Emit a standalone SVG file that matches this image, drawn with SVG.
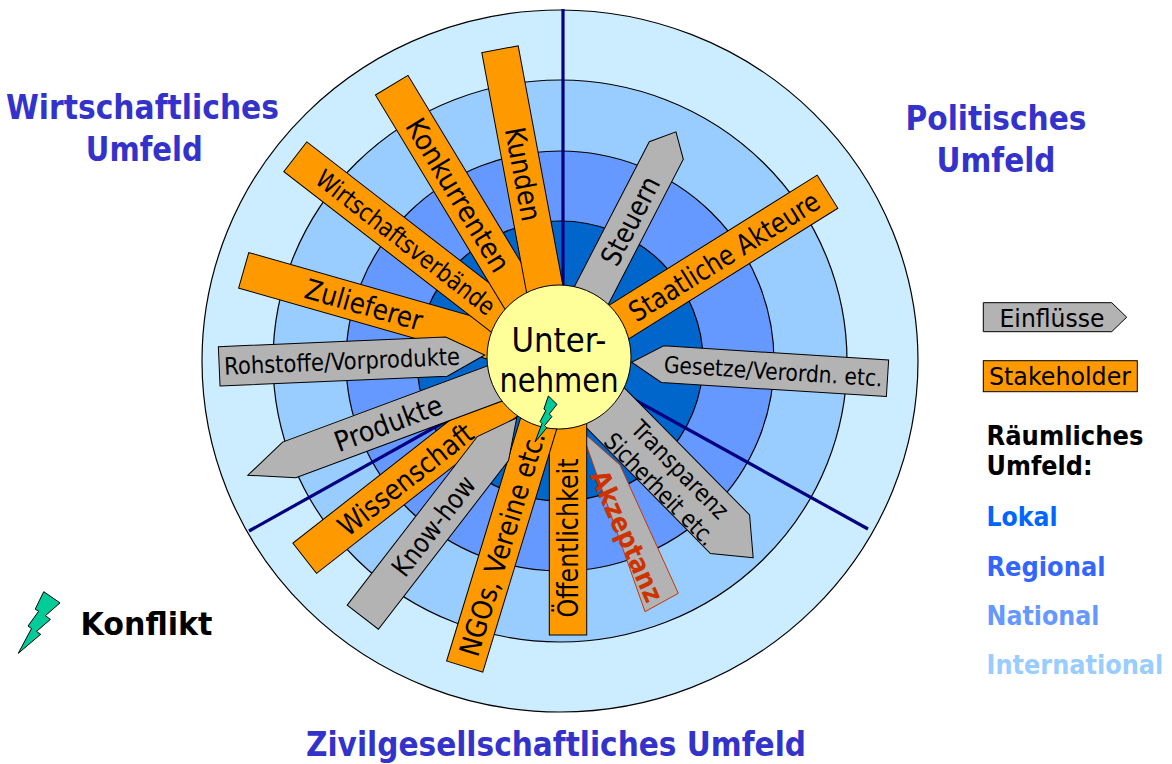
<svg xmlns="http://www.w3.org/2000/svg" width="1172" height="764" viewBox="0 0 1172 764">
<style>
.ring{stroke:#000;stroke-width:1.2}
.axis{stroke:#000080;stroke-width:3.2;fill:none}
.st{fill:#FF9900;stroke:#000;stroke-width:1}
.ei{fill:#B3B3B3;stroke:#000;stroke-width:1}
.lbl{font-family:"DejaVu Sans","Liberation Sans",sans-serif;font-size:28px;fill:#000;text-anchor:middle}
.ttl{font-family:"DejaVu Sans","Liberation Sans",sans-serif;font-weight:bold;font-size:33px;fill:#3333CC;text-anchor:middle}
.leg{font-family:"DejaVu Sans","Liberation Sans",sans-serif;font-weight:bold;font-size:27px}
.bolt{fill:#00CC99;stroke:#000;stroke-width:1}
</style>
<rect width="1172" height="764" fill="#fff"/>
<g id="rings">
<ellipse class="ring" cx="560" cy="361" rx="358" ry="351" fill="#CCECFF"/>
<ellipse class="ring" cx="560" cy="361" rx="287" ry="281" fill="#99CCFF"/>
<ellipse class="ring" cx="560" cy="361" rx="214" ry="210" fill="#6699FF"/>
<ellipse class="ring" cx="560" cy="361" rx="143" ry="140" fill="#0066CC"/>
</g>
<g id="connectors">
<line class="axis" x1="563" y1="9" x2="563" y2="358"/>
<line class="axis" x1="559" y1="358" x2="868" y2="529"/>
<line class="axis" x1="559" y1="358" x2="249" y2="531"/>
</g>
<g id="steuern" transform="translate(666.3,150.5) rotate(117.33)">
<polygon class="ei" points="-21,0 0,-19.15 215,-19.15 215,19.15 0,19.15"/>
<text class="lbl" transform="translate(79,0) rotate(180)" y="10" textLength="96" lengthAdjust="spacingAndGlyphs">Steuern</text>
</g>
<g id="staatliche" transform="translate(827.5,191.7) rotate(148)">
<rect class="st" x="0" y="-19.5" width="297" height="39"/>
<text class="lbl" transform="translate(122,0) rotate(180)" y="10" textLength="219" lengthAdjust="spacingAndGlyphs">Staatliche Akteure</text>
</g>
<g id="gesetze" transform="translate(887.5,378.3) rotate(-176.41)">
<polygon class="ei" points="0,-18.35 225.4,-18.35 256.4,0 225.4,18.35 0,18.35"/>
<text class="lbl" style="font-size:23px" transform="translate(114.5,0) rotate(180)" y="8.3" textLength="219" lengthAdjust="spacingAndGlyphs">Gesetze/Verordn. etc.</text>
</g>
<g id="transparenz">
<polygon class="ei" transform="translate(730,534.2) rotate(-134.6)" points="-33,0 0,-27.5 225,-27.5 225,27.5 0,27.5"/>
<g transform="translate(673.1,476.5) rotate(45.4)">
<text class="lbl" style="font-size:24px" y="-1.5" textLength="127" lengthAdjust="spacingAndGlyphs">Transparenz</text>
<text class="lbl" style="font-size:24px" y="26.5" textLength="147" lengthAdjust="spacingAndGlyphs">Sicherheit etc.</text>
</g>
</g>
<g id="akzeptanz">
<polygon points="578.3,428.3 620,465 678.3,593.3 645,611.7 581.7,431.7" fill="#B3B3B3" stroke="#CC3300" stroke-width="1"/>
<text class="lbl" style="font-weight:bold;font-size:27px;fill:#CC3300" transform="translate(627,536) rotate(66)" y="9.6" textLength="141" lengthAdjust="spacingAndGlyphs">Akzeptanz</text>
</g>
<g id="oeffentlichkeit" transform="translate(568,635) rotate(-90)">
<rect class="st" x="0" y="-18.7" width="265" height="37.4"/>
<text class="lbl" x="97" y="10" textLength="159" lengthAdjust="spacingAndGlyphs">Öffentlichkeit</text>
</g>
<g id="ngos" transform="translate(464.7,666.5) rotate(-73.07)">
<rect class="st" x="0" y="-18.9" width="300" height="37.8"/>
<text class="lbl" x="128.4" y="10" textLength="233" lengthAdjust="spacingAndGlyphs">NGOs, Vereine etc.</text>
</g>
<g id="wissenschaft" transform="translate(304.7,558.3) rotate(-38.06)">
<rect class="st" x="0" y="-19.2" width="300" height="38.4"/>
<text class="lbl" x="128" y="10" textLength="163" lengthAdjust="spacingAndGlyphs">Wissenschaft</text>
</g>
<g id="knowhow" transform="translate(362.8,617.2) rotate(-52.34)">
<polygon class="ei" points="0,-19.7 213,-19.7 252,0 213,19.7 0,19.7"/>
<text class="lbl" style="font-size:27px" x="115.5" y="9.7" textLength="118" lengthAdjust="spacingAndGlyphs">Know-how</text>
</g>
<g id="produkte" transform="translate(289.2,459.9) rotate(-20.39)">
<polygon class="ei" points="-44,0 0,-19 266,-19 266,19 0,19"/>
<text class="lbl" x="105.6" y="10" textLength="113" lengthAdjust="spacingAndGlyphs">Produkte</text>
</g>
<g id="zulieferer" transform="translate(243.7,270.3) rotate(15.93)">
<rect class="st" x="0" y="-18.5" width="305" height="37"/>
<text class="lbl" x="125" y="10" textLength="121" lengthAdjust="spacingAndGlyphs">Zulieferer</text>
</g>
<g id="rohstoffe" transform="translate(219.2,366.3) rotate(-2.43)">
<polygon class="ei" points="0,-19.65 227.5,-19.65 265.8,0 227.5,19.65 0,19.65"/>
<text class="lbl" style="font-size:24px" x="123" y="8.6" textLength="236" lengthAdjust="spacingAndGlyphs">Rohstoffe/Vorprodukte</text>
</g>
<g id="wirtschaftsverbaende" transform="translate(295.3,156.7) rotate(37.74)">
<rect class="st" x="0" y="-18.8" width="310" height="37.6"/>
<text class="lbl" style="font-size:25px" x="139.7" y="9" textLength="219" lengthAdjust="spacingAndGlyphs">Wirtschaftsverbände</text>
</g>
<g id="konkurrenten" transform="translate(391.7,85.2) rotate(58.83)">
<rect class="st" x="0" y="-19" width="300" height="38"/>
<text class="lbl" x="128.4" y="10" textLength="174" lengthAdjust="spacingAndGlyphs">Konkurrenten</text>
</g>
<g id="kunden" transform="translate(500,49.2) rotate(79.43)">
<rect class="st" x="0" y="-18.5" width="296" height="37"/>
<text class="lbl" x="127" y="10" textLength="95" lengthAdjust="spacingAndGlyphs">Kunden</text>
</g>
<g id="unternehmen">
<circle cx="559" cy="357" r="72" fill="#FFFF99" stroke="#000" stroke-width="1"/>
<text class="lbl" style="font-size:34px" x="559" y="352" textLength="95" lengthAdjust="spacingAndGlyphs">Unter-</text>
<text class="lbl" style="font-size:34px" x="559" y="392" textLength="119" lengthAdjust="spacingAndGlyphs">nehmen</text>
</g>
<g id="konflikt-center">
<polygon class="bolt" points="548.4,396 557,404.4 549.3,413.9 551.9,416.7 544.6,425.6 546.8,427.8 535,442 542,423.5 540.1,421.6 545.8,410.6 543.9,409"/>
</g>
<g id="title-wirtschaft">
<text class="ttl" x="142.5" y="119" textLength="273" lengthAdjust="spacingAndGlyphs">Wirtschaftliches</text>
<text class="ttl" x="144.3" y="161" textLength="117" lengthAdjust="spacingAndGlyphs">Umfeld</text>
</g>
<g id="title-politik">
<text class="ttl" x="996" y="130" textLength="181" lengthAdjust="spacingAndGlyphs">Politisches</text>
<text class="ttl" x="996" y="171.7" textLength="119" lengthAdjust="spacingAndGlyphs">Umfeld</text>
</g>
<g id="title-zivil">
<text class="ttl" x="556" y="756" textLength="500" lengthAdjust="spacingAndGlyphs">Zivilgesellschaftliches Umfeld</text>
</g>
<g id="legend-einfluesse">
<polygon class="ei" points="983.3,302.7 1111.7,302.7 1126.7,317.2 1111.7,331.7 983.3,331.7"/>
<text class="lbl" style="font-size:25px;text-anchor:start" x="999.5" y="326.7" textLength="105" lengthAdjust="spacingAndGlyphs">Einflüsse</text>
</g>
<g id="legend-stakeholder">
<rect class="st" x="983.3" y="360.7" width="154" height="31"/>
<text class="lbl" style="font-size:24.5px;text-anchor:start" x="989" y="385" textLength="142" lengthAdjust="spacingAndGlyphs">Stakeholder</text>
</g>
<g id="legend-raeumlich">
<text class="leg" x="986.5" y="445" fill="#000" textLength="157" lengthAdjust="spacingAndGlyphs">Räumliches</text>
<text class="leg" x="986.5" y="475" fill="#000" textLength="106" lengthAdjust="spacingAndGlyphs">Umfeld:</text>
<text class="leg" x="986.5" y="526" fill="#0066FF" textLength="71" lengthAdjust="spacingAndGlyphs">Lokal</text>
<text class="leg" x="986.5" y="575.5" fill="#3366FF" textLength="119" lengthAdjust="spacingAndGlyphs">Regional</text>
<text class="leg" x="986.5" y="625" fill="#6699FF" textLength="113" lengthAdjust="spacingAndGlyphs">National</text>
<text class="leg" transform="translate(986.5,674) scale(0.89,1)" fill="#99CCFF">International</text>
</g>
<g id="legend-konflikt">
<polygon class="bolt" points="43.7,591.7 60,602.9 45.4,615.7 50.4,619.4 36.5,631.4 40.7,634.3 18.3,653.3 31.5,628.5 28,626 38.7,611.2 35.2,609.2"/>
<text class="leg" style="font-size:32px" x="80.5" y="635" fill="#000" textLength="132" lengthAdjust="spacingAndGlyphs">Konflikt</text>
</g>
</svg>
